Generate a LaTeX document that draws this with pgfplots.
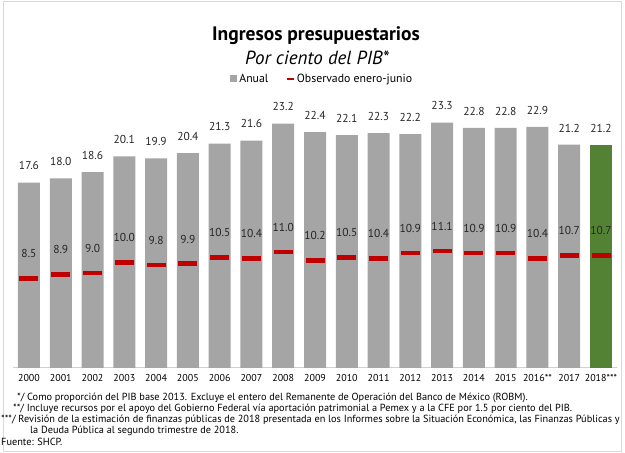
\documentclass[border=0pt]{standalone}
\usepackage{fontspec}
\setmainfont{PT Sans}
\usepackage{pgfplots}
\pgfplotsset{compat=1.18}
\definecolor{barGray}{HTML}{A5A5A5}
\definecolor{barGreen}{HTML}{548235}
\definecolor{markRed}{HTML}{C00000}
\begin{document}
\begin{tikzpicture}[x=1pt,y=1pt]
\useasboundingbox (0,0) rectangle (625,453);
\draw[black!15, line width=1pt] (3,1.5) rectangle (621,451);
\node[font=\bfseries\fontsize{19.5}{20}\selectfont, anchor=base] at (316,412) {Ingresos presupuestarios};
\node[font=\itshape\fontsize{19}{20}\selectfont, anchor=base] at (317,388) {Por ciento del PIB*};
\begin{axis}[
  at={(13.1pt,85pt)}, anchor=south west,
  scale only axis, width=603.8pt, height=263.3pt,
  xmin=-0.5, xmax=18.5, ymin=0, ymax=25,
  /pgf/number format/assume math mode=true,
  axis x line*=bottom, axis y line=none,
  x axis line style={black!18, line width=1pt, -},
  xtick={0,...,18},
  xticklabels={2000,2001,2002,2003,2004,2005,2006,2007,2008,2009,2010,2011,2012,2013,2014,2015,2016**,2017,2018***},
  major tick length=0pt,
  xticklabel style={font=\fontsize{10}{10}\selectfont, yshift=-3pt},
  ytick=\empty,
  clip=false,
  legend columns=2,
  legend style={at={(0.512,1.098)}, anchor=center, draw=none, fill=none,
    font=\fontsize{11.8}{12}\selectfont, /tikz/every even column/.append style={column sep=16pt}},
  legend cell align=left,
]
\addplot[ybar, bar width=22pt, fill=barGray, draw=none,
  nodes near coords={\pgfmathprintnumber[fixed,fixed zerofill,precision=1,assume math mode=true]{\pgfplotspointmeta}},
  nodes near coords style={font=\fontsize{11.5}{12}\selectfont, anchor=south, yshift=9pt, text=black!85},
  legend image code/.code={\fill[barGray] (0pt,-3.5pt) rectangle (7pt,3.5pt);}]
  coordinates {(0,17.6) (1,18.0) (2,18.6) (3,20.1) (4,19.9) (5,20.4) (6,21.3) (7,21.6) (8,23.2) (9,22.4) (10,22.1) (11,22.3) (12,22.2) (13,23.3) (14,22.8) (15,22.8) (16,22.9) (17,21.2)};
\addlegendentry{Anual}
\addplot[ybar, bar width=22pt, fill=barGreen, draw=none, forget plot,
  nodes near coords={\pgfmathprintnumber[fixed,fixed zerofill,precision=1,assume math mode=true]{\pgfplotspointmeta}},
  nodes near coords style={font=\fontsize{11.5}{12}\selectfont, anchor=south, yshift=9pt, text=black!85}]
  coordinates {(18,21.2)};
\addplot[only marks, mark=-, mark size=9.5pt, mark options={line width=4.5pt, draw=markRed},
  nodes near coords={\pgfmathprintnumber[fixed,fixed zerofill,precision=1,assume math mode=true]{\pgfplotspointmeta}},
  nodes near coords style={font=\fontsize{11.5}{12}\selectfont, anchor=south, yshift=15pt, text=black!85},
  legend image code/.code={\draw[markRed, line width=1.5pt] (0pt,0pt) -- (7pt,0pt);}]
  coordinates {(0,8.5) (1,8.9) (2,9.0) (3,10.0) (4,9.8) (5,9.9) (6,10.5) (7,10.4) (8,11.0) (9,10.2) (10,10.5) (11,10.4) (12,10.9) (13,11.1) (14,10.9) (15,10.9) (16,10.4) (17,10.7) (18,10.7)};
\addlegendentry{Observado enero-junio}
\end{axis}
\begin{scope}[every node/.style={font=\fontsize{10.3}{11}\selectfont, anchor=base west, inner sep=0pt}]
\node at (17,52.5) {*/ Como proporción del PIB base 2013. Excluye el entero del Remanente de Operación del Banco de México (ROBM).};
\node at (13,41.5) {**/ Incluye recursos por el apoyo del Gobierno Federal vía aportación patrimonial a Pemex y a la CFE por 1.5 por ciento del PIB.};
\node at (1,30.5) {***/ Revisión de la estimación de finanzas públicas de 2018 presentada en los Informes sobre la Situación Económica, las Finanzas Públicas y};
\node at (30,19) {la Deuda Pública al segundo trimestre de 2018.};
\node at (1,7.5) {Fuente: SHCP.};
\end{scope}
\end{tikzpicture}
\end{document}
